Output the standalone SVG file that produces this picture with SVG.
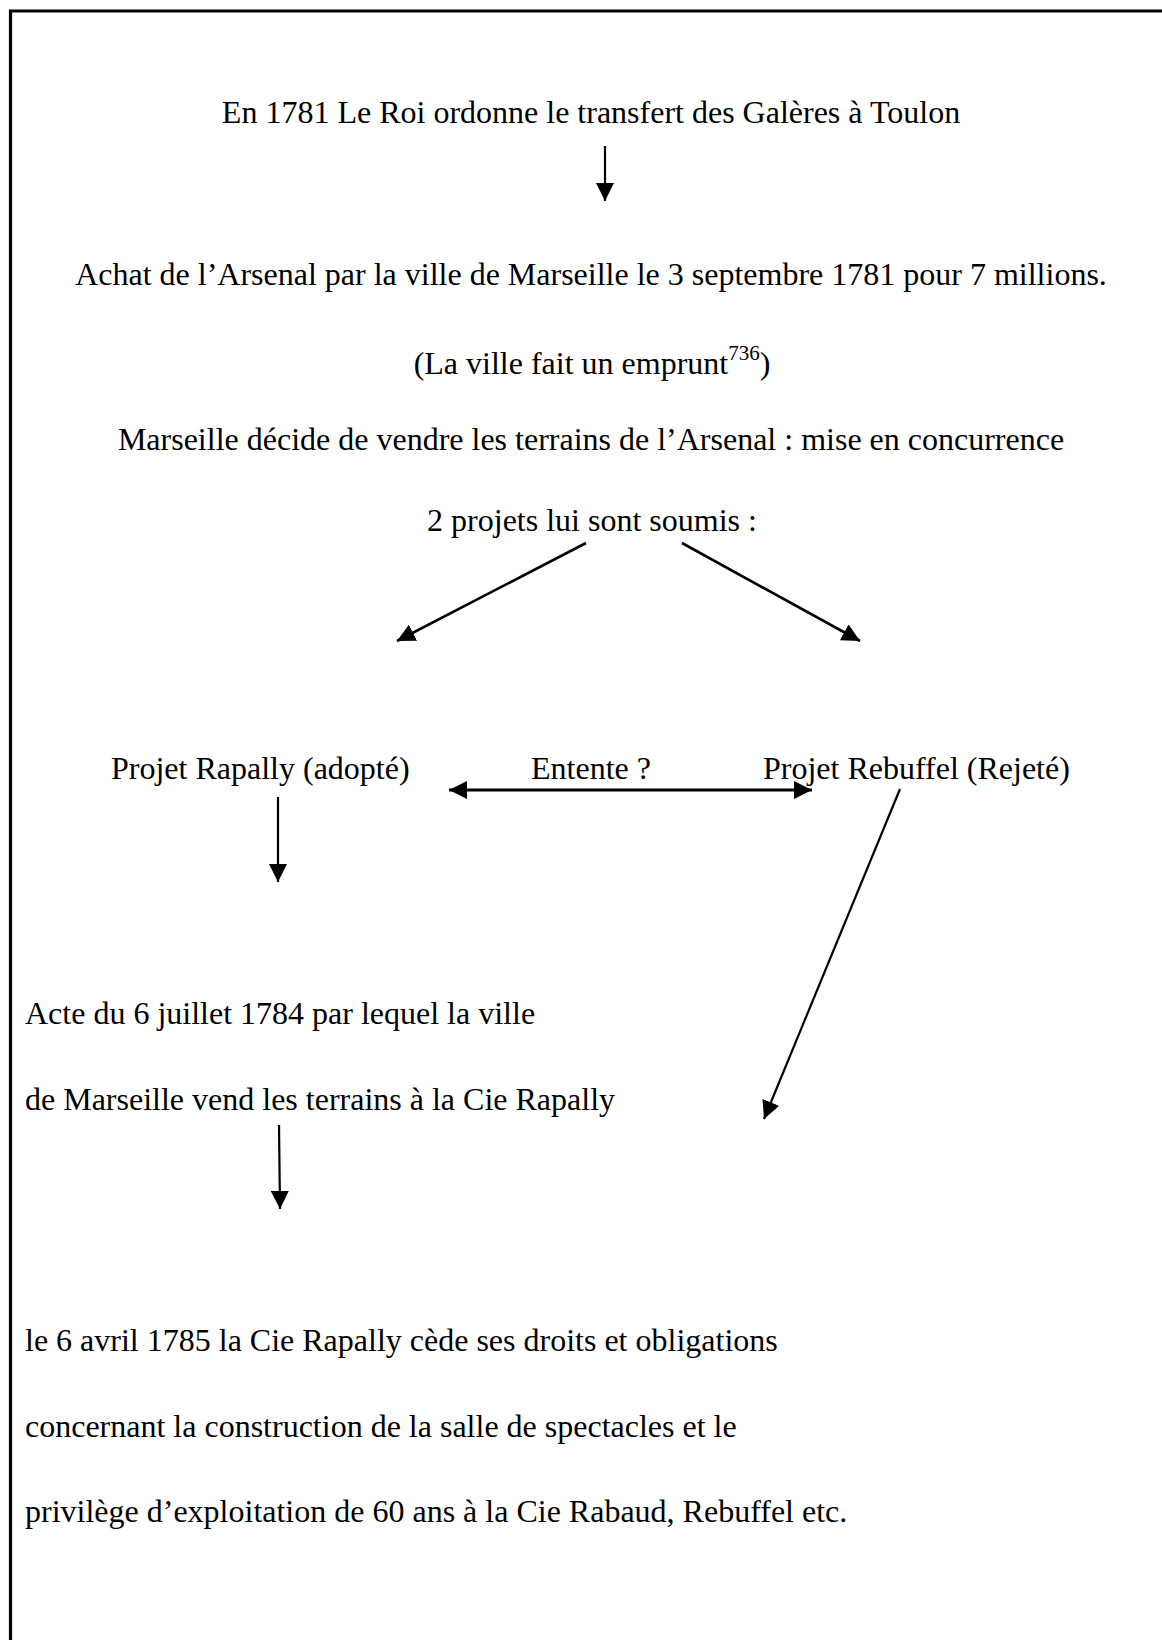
<svg xmlns="http://www.w3.org/2000/svg" width="1162" height="1640" viewBox="0 0 1162 1640">
  <style>
    .t { font-family: "Liberation Serif", "Times New Roman", serif; font-size: 32px; fill: #000; }
    .c { text-anchor: middle; }
    .sup { font-size: 21px; }
    .ln { stroke: #000; fill: none; stroke-width: 2.2; }
    .dg { stroke: #000; fill: none; stroke-width: 2.6; }
    .bd { stroke: #000; fill: none; stroke-width: 3.2; }
  </style>
  <defs>
    <marker id="ah" markerUnits="userSpaceOnUse" markerWidth="18" markerHeight="18" viewBox="0 0 16 16" refX="16" refY="8" orient="auto">
      <path d="M0,0 L16,8 L0,16 Z" fill="#000"/>
    </marker>
    <marker id="ahs" markerUnits="userSpaceOnUse" markerWidth="18" markerHeight="18" viewBox="0 0 16 16" refX="16" refY="8" orient="auto-start-reverse">
      <path d="M0,0 L16,8 L0,16 Z" fill="#000"/>
    </marker>
  </defs>
  <rect width="1162" height="1640" fill="#fff"/>
  <polyline class="bd" points="10.5,1640 10.5,11 1162,11"/>

  <g id="n1"><text class="t c" x="591" y="123">En 1781 Le Roi ordonne le transfert des Galères à Toulon</text></g>
  <g id="n2"><text class="t c" x="591" y="285">Achat de l’Arsenal par la ville de Marseille le 3 septembre 1781 pour 7 millions.</text></g>
  <g id="n3"><text class="t c" x="592" y="374">(La ville fait un emprunt<tspan class="sup" dy="-14">736</tspan><tspan dy="14">)</tspan></text></g>
  <g id="n4"><text class="t c" x="591" y="450">Marseille décide de vendre les terrains de l’Arsenal : mise en concurrence</text></g>
  <g id="n5"><text class="t c" x="592" y="531">2 projets lui sont soumis :</text></g>
  <g id="n6"><text class="t" x="111" y="779">Projet Rapally (adopté)</text></g>
  <g id="n7"><text class="t" x="531" y="779">Entente ?</text></g>
  <g id="n8"><text class="t" x="763" y="779">Projet Rebuffel (Rejeté)</text></g>
  <g id="n9">
    <text class="t" x="25" y="1024">Acte du 6 juillet 1784 par lequel la ville</text>
    <text class="t" x="25" y="1110">de Marseille vend les terrains à la Cie Rapally</text>
  </g>
  <g id="n10">
    <text class="t" x="25" y="1351">le 6 avril 1785 la Cie Rapally cède ses droits et obligations</text>
    <text class="t" x="25" y="1437">concernant la construction de la salle de spectacles et le</text>
    <text class="t" x="25" y="1522">privilège d’exploitation de 60 ans à la Cie Rabaud, Rebuffel etc.</text>
  </g>

  <g id="connectors">
    <line class="ln" x1="605" y1="146" x2="605" y2="201" marker-end="url(#ah)"/>
    <line class="dg" x1="586" y1="543" x2="397" y2="641" marker-end="url(#ah)"/>
    <line class="dg" x1="682" y1="543" x2="860" y2="641" marker-end="url(#ah)"/>
    <line class="bd" x1="449" y1="790" x2="812" y2="790" marker-start="url(#ahs)" marker-end="url(#ahs)"/>
    <line class="ln" x1="278" y1="797" x2="278" y2="882" marker-end="url(#ah)"/>
    <line class="ln" x1="900" y1="789" x2="764" y2="1119" marker-end="url(#ah)"/>
    <line class="ln" x1="279" y1="1125" x2="280" y2="1209" marker-end="url(#ah)"/>
  </g>
</svg>
